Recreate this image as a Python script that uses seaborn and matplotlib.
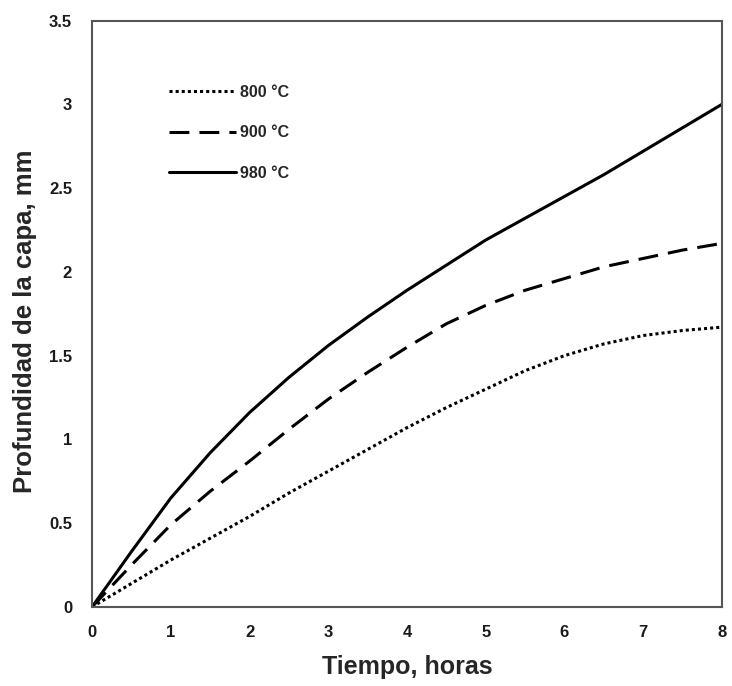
import numpy as np
import pandas as pd
import matplotlib
matplotlib.use("Agg")
import matplotlib.pyplot as plt
import seaborn as sns

tiempo = [0, 0.5, 1, 1.5, 2, 2.5, 3, 3.5, 4, 4.5, 5, 5.5, 6, 6.5, 7, 7.5, 8]
prof_800 = [0, 0.14, 0.28, 0.41, 0.54, 0.68, 0.81, 0.94, 1.07, 1.19, 1.30, 1.41, 1.50, 1.57, 1.62, 1.65, 1.67]
prof_900 = [0, 0.25, 0.49, 0.69, 0.87, 1.06, 1.24, 1.40, 1.55, 1.69, 1.80, 1.89, 1.96, 2.03, 2.08, 2.13, 2.17]
prof_980 = [0, 0.33, 0.65, 0.92, 1.16, 1.37, 1.56, 1.73, 1.89, 2.04, 2.19, 2.32, 2.45, 2.58, 2.72, 2.86, 3.00]
series = ["800 °C", "900 °C", "980 °C"]
x_ticks = [0, 1, 2, 3, 4, 5, 6, 7, 8]
y_ticks = [0, 0.5, 1, 1.5, 2, 2.5, 3, 3.5]
y_labels = ["0", "0.5", "1", "1.5", "2", "2.5", "3", "3.5"]

df = pd.concat([
    pd.DataFrame({"Tiempo": tiempo, "Prof": vals, "Serie": name})
    for name, vals in zip(series, [prof_800, prof_900, prof_980])
])

sns.set_theme(style="white")
plt.rcParams["font.family"] = ["Liberation Sans", "DejaVu Sans"]

fig = plt.figure(figsize=(7.32, 6.86), dpi=100)
ax = fig.add_axes([0.1257, 0.1152, 0.8606, 0.8549])

sns.lineplot(data=df, x="Tiempo", y="Prof", style="Serie",
             dashes={"800 °C": (1, 1), "900 °C": (6.5, 3.3), "980 °C": ""},
             color="black", linewidth=2.2, ax=ax, legend=False, sort=False)

ax.set_xlim(0, 8)
ax.set_ylim(0, 3.5)
ax.set_xticks(x_ticks)
ax.set_xticklabels([str(t) for t in x_ticks], fontsize=12, fontweight="bold", color="#1a1a1a")
ax.set_yticks(y_ticks)
ax.set_yticklabels(y_labels, fontsize=12, fontweight="bold", color="#1a1a1a")
ax.tick_params(axis="both", length=0)
ax.tick_params(axis="x", pad=13.3)
ax.tick_params(axis="y", pad=14.4)
ax.set_xlabel("Tiempo, horas", fontsize=18, fontweight="bold")
ax.set_ylabel("Profundidad de la capa, mm", fontsize=18.5, fontweight="bold")
ax.xaxis.set_label_coords(0.5, -0.082)
ax.yaxis.set_label_coords(-0.087, 0.4876)
for sp in ax.spines.values():
    sp.set_color("#555555")
    sp.set_linewidth(1.5)
    sp.set_visible(True)

lines = ax.get_lines()
leg = ax.legend(lines[:3], series, loc="upper left", bbox_to_anchor=(0.1, 0.915),
                frameon=False, handlelength=4.2, handletextpad=0.2,
                labelspacing=1.6, prop={"weight": "bold", "size": 11.5})

fig.savefig("out.png", dpi=100)
